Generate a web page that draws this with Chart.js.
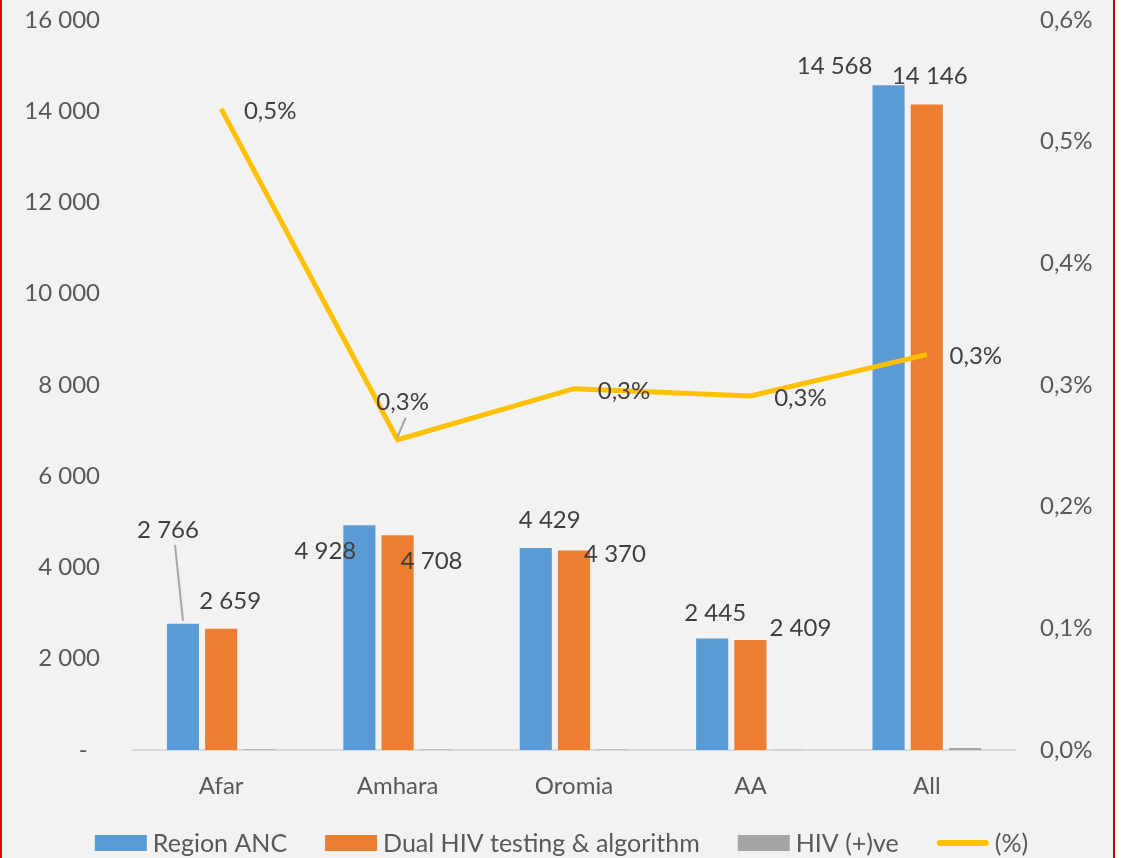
<!DOCTYPE html>
<html>
<head>
<meta charset="utf-8">
<script src="https://cdn.jsdelivr.net/npm/chart.js@4"></script>
<style>
  html, body { margin: 0; padding: 0; background: #fff; }
  #wrap {
    width: 1115px; height: 858px; box-sizing: border-box;
    border-left: 2px solid #E00000; border-right: 2px solid #C00000;
    background: #F2F2F2;
  }
  canvas { display: block; }
</style>
</head>
<body>
<div id="wrap"><canvas id="chart" width="1111" height="858"></canvas></div>
<script>
// Chart data
const categories  = ['Afar', 'Amhara', 'Oromia', 'AA', 'All'];
const regionAnc   = [2766, 4928, 4429, 2445, 14568];
const dualTesting = [2659, 4708, 4370, 2409, 14146];
const hivPositive = [14, 12, 13, 7, 46];
const positivePct = [0.527, 0.255, 0.297, 0.291, 0.325];

const FONT = 'Lato, "Open Sans", sans-serif';

// Where each value label sits relative to its mark (dx, dy, leader line?)
const labelOffsets = {
  0: [[-15, -94, true], [-34, 26], [14, -28], [3, -25], [-54, -19]],
  1: [[9, -27], [34, 26], [41, 4], [50, -12], [3, -28]],
  3: [[49, 2], [5, -37, true], [50, 3], [50, 2], [49, 2]]
};

function fmtThousands(v) {
  return String(Math.round(v)).replace(/\B(?=(\d{3})+(?!\d))/g, ' ');
}
function fmtPct(v) {
  return v.toFixed(1).replace('.', ',') + '%';
}

// Draws the value labels (and the two leader lines)
const valueLabels = {
  id: 'valueLabels',
  afterDatasetsDraw(chart) {
    const ctx = chart.ctx;
    ctx.save();
    ctx.font = '24px ' + FONT;
    ctx.fillStyle = '#404040';
    ctx.textAlign = 'center';
    ctx.textBaseline = 'middle';
    Object.keys(labelOffsets).forEach(di => {
      const ds = chart.data.datasets[di];
      const meta = chart.getDatasetMeta(di);
      meta.data.forEach((el, i) => {
        const [dx, dy, leader] = labelOffsets[di][i];
        const v = ds.data[i];
        const text = di == 3 ? fmtPct(v) : fmtThousands(v);
        const tx = el.x + dx, ty = el.y + dy;
        if (leader) {
          ctx.strokeStyle = '#A6A6A6';
          ctx.lineWidth = 2;
          ctx.beginPath();
          ctx.moveTo(tx + (dy < -60 ? 7 : 3), ty + 15);
          ctx.lineTo(el.x, el.y - 3);
          ctx.stroke();
        }
        ctx.fillText(text, tx, ty);
      });
    });
    ctx.restore();
  }
};

// Legend along the bottom: wide colour keys, line key for the (%) series
const bottomLegend = {
  id: 'bottomLegend',
  afterDraw(chart) {
    const ctx = chart.ctx;
    const keyW = 52, keyH = 16, textGap = 6, itemGap = 38, y = 843;
    ctx.save();
    ctx.font = '25px ' + FONT;
    ctx.textBaseline = 'middle';
    const items = chart.data.datasets.map(ds => ({ ds, w: keyW + textGap + ctx.measureText(ds.label).width }));
    const total = items.reduce((s, it) => s + it.w, 0) + itemGap * (items.length - 1);
    let x = (chart.width - total) / 2 + 4;
    items.forEach(({ ds, w }) => {
      if (ds.type === 'line') {
        ctx.strokeStyle = ds.borderColor;
        ctx.lineWidth = 6;
        ctx.lineCap = 'round';
        ctx.beginPath();
        ctx.moveTo(x + 3, y);
        ctx.lineTo(x + keyW - 3, y);
        ctx.stroke();
      } else {
        ctx.fillStyle = ds.backgroundColor;
        ctx.fillRect(x, y - keyH / 2, keyW, keyH);
      }
      ctx.fillStyle = '#595959';
      ctx.fillText(ds.label, x + keyW + textGap, y + 1);
      x += w + itemGap;
    });
    ctx.restore();
  }
};

// Value axes: fixed width, no extra room above/below for the end labels
function fixAxis(width) {
  return scale => {
    scale.width = width;
    scale.paddingTop = 0;
    scale.paddingBottom = 0;
  };
}

new Chart(document.getElementById('chart'), {
  data: {
    labels: categories,
    datasets: [
      { type: 'bar', label: 'Region ANC', data: regionAnc, backgroundColor: '#5B9BD5', yAxisID: 'y', order: 1 },
      { type: 'bar', label: 'Dual HIV testing & algorithm', data: dualTesting, backgroundColor: '#ED7D31', yAxisID: 'y', order: 1 },
      { type: 'bar', label: 'HIV (+)ve', data: hivPositive, backgroundColor: '#A5A5A5', yAxisID: 'y', order: 1 },
      { type: 'line', label: '(%)', data: positivePct, borderColor: '#FFC000', backgroundColor: '#FFC000',
        borderWidth: 5, pointRadius: 0, tension: 0, yAxisID: 'y1', order: 0 }
    ]
  },
  options: {
    responsive: false,
    animation: false,
    layout: { padding: { top: 20, left: 0, right: 0, bottom: 0 } },
    datasets: { bar: { categoryPercentage: 0.65, barPercentage: 0.84 } },
    plugins: {
      tooltip: { enabled: false },
      legend: { display: false }
    },
    scales: {
      x: {
        grid: { display: false, drawTicks: false },
        border: { color: '#D9D9D9', width: 2 },
        ticks: { font: { family: FONT, size: 24 }, color: '#595959', padding: 22 },
        afterFit(scale) { scale.height = 108; }
      },
      y: {
        position: 'left',
        min: 0, max: 16000,
        grid: { display: false, drawTicks: false },
        border: { display: false },
        ticks: {
          stepSize: 2000,
          font: { family: FONT, size: 24 },
          color: '#595959',
          padding: 33,
          callback: v => v === 0 ? '-  ' : fmtThousands(v)
        },
        afterFit: fixAxis(131)
      },
      y1: {
        position: 'right',
        min: 0, max: 0.6,
        grid: { display: false, drawTicks: false },
        border: { display: false },
        ticks: {
          stepSize: 0.1,
          font: { family: FONT, size: 24 },
          color: '#595959',
          padding: 25,
          callback: v => fmtPct(v)
        },
        afterFit: fixAxis(98)
      }
    }
  },
  plugins: [valueLabels, bottomLegend]
});
</script>
</body>
</html>
